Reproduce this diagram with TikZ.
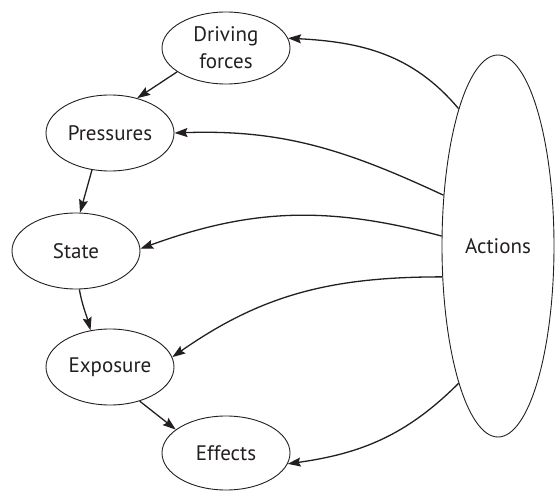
\documentclass[tikz,border=0pt]{standalone}
\usepackage{fontspec}
\setmainfont{PT Sans}
\usetikzlibrary{shapes.geometric,arrows.meta}
\definecolor{ink}{HTML}{231F20}
\tikzset{
  bub/.style={ellipse, draw=ink, line width=0.9pt, inner sep=0pt,
    minimum width=128pt, minimum height=76pt, text=ink,
    font=\fontsize{21}{27}\selectfont, align=center},
  arr/.style={draw=ink, line width=1.3pt,
    -{Stealth[length=13pt,width=9pt,inset=2pt]}}
}
\begin{document}
\begin{tikzpicture}[x=1pt,y=1pt]
\useasboundingbox (0,0) rectangle (555,-492);
\node[bub, minimum height=72pt] (D) at (226,-48) {Driving\\forces};
\node[bub] (P) at (110,-133) {Pressures};
\node[bub] (S) at (76,-251) {State};
\node[bub] (E) at (110,-367) {Exposure};
\node[bub, minimum height=74pt] (F) at (226,-453) {Effects};
\node[bub, minimum width=112pt, minimum height=382pt] (A) at (498,-246) {Actions};

\draw[arr] (D.206) -- (P.52);
\draw[arr] (P.244) -- (S.84);
\draw[arr] (S.275) to[out=-80,in=105] (E.118);
\draw[arr] (E.311) -- (F.155);

\draw[arr] (A.106.7) to[out=130,in=-3] (D.9);
\draw[arr] (A.137) to[out=155,in=2] (P.0);
\draw[arr] (A.170) to[out=165,in=20] (S.2);
\draw[arr] (A.209) to[out=180,in=35] (E.9);
\draw[arr] (A.254) to[out=225,in=8] (F.-10);
\end{tikzpicture}
\end{document}
